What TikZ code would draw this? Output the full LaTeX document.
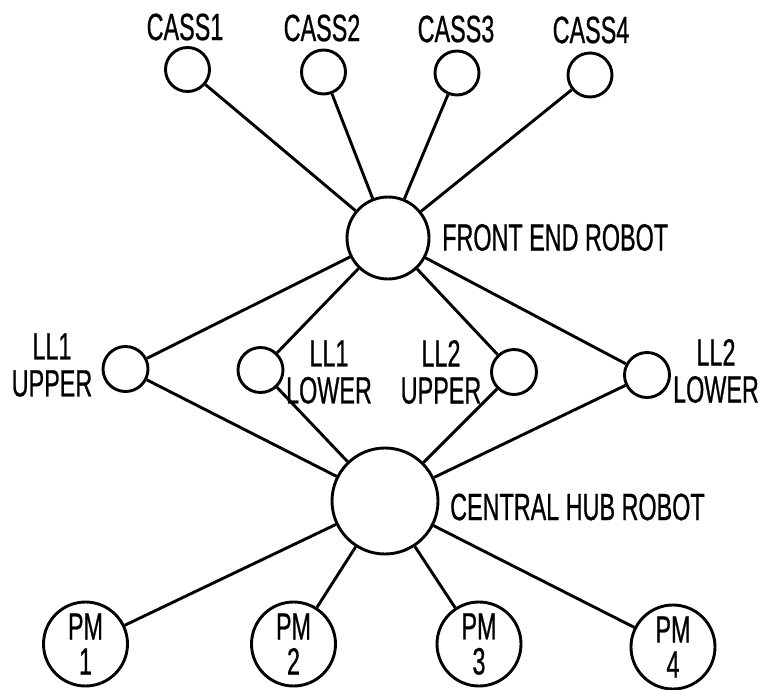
\documentclass[tikz,border=0pt]{standalone}
\usepackage{fontspec}
\setmainfont[FakeStretch=0.615,FakeBold=0.6]{Liberation Sans}
\begin{document}
\begin{tikzpicture}[x=1pt,y=-1pt,
  every node/.style={font=\fontsize{38}{37}\selectfont},
  small/.style={circle,draw,line width=2.9pt,minimum size=44pt,inner sep=0pt},
  robot/.style={circle,draw,line width=2.9pt,inner sep=0pt},
  pm/.style={circle,draw,line width=2.9pt,minimum size=84pt,inner sep=0pt,align=center},
  lbl/.style={inner sep=0pt,align=center},
  link/.style={line width=2.9pt}]
\useasboundingbox (0,0) rectangle (769,689);
% cassettes
\node[small] (c1) at (187.5,69.5) {};
\node[small] (c2) at (323.5,72) {};
\node[small] (c3) at (457,73) {};
\node[small] (c4) at (590,75) {};
\node[lbl] (t1) at (185,27) {CASS1};
\node[lbl] (t2) at (322,28) {CASS2};
\node[lbl] (t3) at (456,29) {CASS3};
\node[lbl] (t4) at (591,30) {CASS4};
% front end robot
\node[robot,minimum size=82pt] (fe) at (388,238) {};
\node[lbl,anchor=west] (tfe) at (442,237.5) {FRONT END ROBOT};
% load locks
\node[small,minimum size=45pt] (l1u) at (125.5,369) {};
\node[small,minimum size=45pt] (l1l) at (260.5,370) {};
\node[small,minimum size=45pt] (l2u) at (514,372) {};
\node[small,minimum size=45pt] (l2l) at (647,375) {};
\node[lbl] (tl1u) at (52,365) {LL1\\UPPER};
\node[lbl] (tl1l) at (329,372) {LL1\\LOWER};
\node[lbl] (tl2u) at (441,372) {LL2\\UPPER};
\node[lbl] (tl2l) at (716,371) {LL2\\LOWER};
% central hub robot
\node[robot,minimum size=106pt] (hub) at (385,501) {};
\node[lbl,anchor=west] (thub) at (450,507) {CENTRAL HUB ROBOT};
% process modules
\node[pm,font=\fontsize{38}{35}\selectfont] (p1) at (85.5,644) {PM\\1};
\node[pm,font=\fontsize{38}{35}\selectfont] (p2) at (293.5,644) {PM\\2};
\node[pm,font=\fontsize{38}{35}\selectfont] (p3) at (479,644) {PM\\3};
\node[pm,font=\fontsize{38}{35}\selectfont] (p4) at (673,647) {PM\\4};
% connectors
\foreach \n in {c1,c2,c3,c4,l1u,l1l,l2u,l2l} \draw[link] (fe) -- (\n);
\foreach \n in {l1u,l1l,l2u,l2l,p1,p2,p3,p4} \draw[link] (hub) -- (\n);
\end{tikzpicture}
\end{document}
